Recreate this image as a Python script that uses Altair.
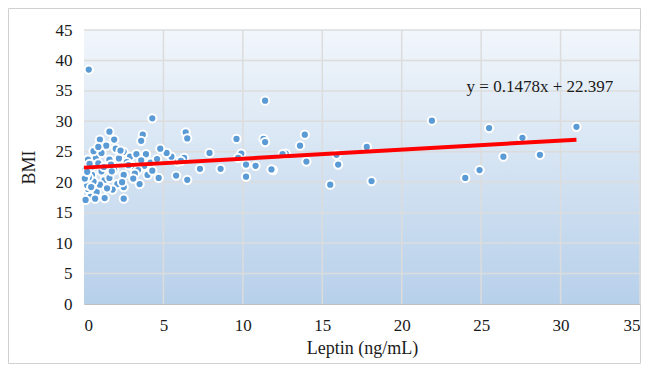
import altair as alt
import pandas as pd

leptin = [0.3, 4.3, 1.6, 3.7, 3.6, 1.0, 1.9, 6.4, 6.5, 11.4, 9.6, 11.3, 11.4, 13.9, 13.6,
          21.9, 25.5, 27.6, 31.0, 17.8, 26.4, 28.7, 24.9, 24.0, 15.5, 18.1, 15.9, 16.0,
          14.0, 12.7, 11.9, 10.8, 10.2, 9.9, 10.2, 9.7, 7.9, 8.6, 7.3, 6.5, 5.9, 6.3, 5.5,
          5.2, 4.8, 5.8, 4.7, 4.0, 3.5, 2.5, 2.5, 1.3, 0.4, 0.1, 0.25, 0.8, 1.3, 0.5, 0.1,
          0.25, 0.75, 1.1, 1.4, 2.0, 2.5, 1.6, 2.9, 3.0, 1.9, 2.5, 1.6, 1.0, 0.6, 2.1, 1.8,
          3.8, 4.2, 3.4, 4.3, 0.2, 0.5, 0.9, 1.2, 1.5, 2.2, 2.7, 3.2, 3.9, 0.3, 0.7, 1.7,
          2.3, 0.15, 0.6, 1.1, 3.1, 11.8, 12.5, 6.1, 4.6,
          0.05, 0.35, 0.45, 1.25, 1.75, 2.4, 2.8, 3.3, 0.9, 1.45, 0.2, 3.6]
bmi = [38.5, 30.5, 28.3, 27.8, 26.8, 27.0, 27.0, 28.2, 27.2, 33.4, 27.1, 27.1, 26.6, 27.8, 26.0,
       30.1, 28.9, 27.3, 29.1, 25.8, 24.2, 24.5, 22.0, 20.7, 19.6, 20.2, 24.5, 22.9,
       23.4, 24.7, 22.0, 22.7, 22.9, 24.7, 20.9, 24.0, 24.8, 22.2, 22.2, 20.4, 23.4, 24.0, 24.2,
       24.8, 25.5, 21.1, 20.7, 21.2, 19.7, 19.2, 17.3, 17.4, 17.6, 17.1, 18.9, 18.4, 20.4, 21.2, 22.0,
       23.7, 24.0, 24.8, 26.0, 25.5, 25.0, 23.7, 24.2, 22.7, 22.0, 21.2, 20.7, 19.6, 20.1, 19.7, 18.8,
       22.7, 23.2, 22.0, 21.9, 19.5, 22.6, 23.1, 21.6, 22.4, 23.9, 23.3, 21.4, 24.6, 20.8, 17.3, 22.9,
       25.2, 21.3, 25.1, 21.8, 20.6, 22.1, 24.6, 23.5, 23.8,
       20.6, 23.0, 19.2, 22.5, 21.8, 20.0, 22.8, 24.6, 25.8, 19.0, 21.7, 23.6]

x_ticks = [0, 5, 10, 15, 20, 25, 30, 35]
y_ticks = [0, 5, 10, 15, 20, 25, 30, 35, 40, 45]

slope = 0.1478
intercept = 22.397
line_x = [0.0, 31.0]
eq_label = "y = 0.1478x + 22.397"
eq_pos = (28.7, 35.7)

W, H = 556, 274
FONT = "Liberation Serif"
GRID = "#dcdcdc"

pts = pd.DataFrame({"Leptin": leptin, "BMI": bmi})
line_df = pd.DataFrame({"Leptin": line_x, "BMI": [slope * v + intercept for v in line_x]})
eq_df = pd.DataFrame({"Leptin": [eq_pos[0]], "BMI": [eq_pos[1]], "t": [eq_label]})
xg = pd.DataFrame({"v": x_ticks[1:]})
yg = pd.DataFrame({"v": y_ticks[1:]})

xs = alt.Scale(domain=[0, 35], nice=False)
ys = alt.Scale(domain=[0, 45], nice=False)

xaxis = alt.Axis(values=x_ticks, grid=False, ticks=False, labelOverlap=False,
                 domainColor="#bfbfbf", labelFont=FONT, labelFontSize=17, labelColor="#1a1a1a",
                 labelPadding=13, title="Leptin (ng/mL)", titleFont=FONT, titleFontSize=18,
                 titleFontWeight="normal", titleColor="#1a1a1a", titlePadding=6)
yaxis = alt.Axis(values=y_ticks, grid=False, ticks=False, labelOverlap=False,
                 domainColor="#bfbfbf", labelFont=FONT, labelFontSize=17, labelColor="#1a1a1a",
                 labelPadding=12, title="BMI", titleFont=FONT, titleFontSize=18,
                 titleFontWeight="normal", titleColor="#1a1a1a", titlePadding=17)

X = lambda f: alt.X(f, scale=xs, axis=xaxis)
Y = lambda f: alt.Y(f, scale=ys, axis=yaxis)

bg = alt.Chart(pd.DataFrame({"a": [0]})).mark_rect(
    color=alt.LinearGradient(
        gradient="linear", x1=0, x2=0, y1=0, y2=1,
        stops=[alt.GradientStop(color="#f1f6fb", offset=0),
               alt.GradientStop(color="#b7d0ea", offset=1)]
    )
).encode(x=alt.value(0), x2=alt.value(W), y=alt.value(0), y2=alt.value(H))

border = alt.Chart(pd.DataFrame({"a": [0]})).mark_rect(
    fill=None, stroke="#d0d0d0", strokeWidth=1, clip=False
).encode(x=alt.value(-75.5), x2=alt.value(W + 0.5), y=alt.value(-21.5), y2=alt.value(H + 59.5))

vgrid = alt.Chart(xg).mark_rule(color=GRID, strokeWidth=1.5).encode(
    x=X("v:Q"), y=alt.value(0), y2=alt.value(H))
hgrid = alt.Chart(yg).mark_rule(color=GRID, strokeWidth=1.5).encode(
    y=Y("v:Q"), x=alt.value(0), x2=alt.value(W))

points = alt.Chart(pts).mark_point(
    filled=True, shape="circle", size=68, fill="#5b9bd5", stroke="white", strokeWidth=2, opacity=1
).encode(x=X("Leptin:Q"), y=Y("BMI:Q"))

trend = alt.Chart(line_df).mark_line(color="#ff0000", strokeWidth=4).encode(
    x=X("Leptin:Q"), y=Y("BMI:Q"))

eq = alt.Chart(eq_df).mark_text(font=FONT, fontSize=17, color="#1a1a1a").encode(
    x=X("Leptin:Q"), y=Y("BMI:Q"), text="t:N")

chart = alt.layer(bg, border, vgrid, hgrid, points, trend, eq).properties(
    width=W, height=H, padding={"left": 76, "top": 22, "right": 1, "bottom": 60},
    autosize=alt.AutoSizeParams(type="none")
).configure_view(stroke=None).configure_axis(
    labelOverlap=False, labelFont=FONT, titleFont=FONT
)

chart.save("out.html", embed_options={"renderer": "svg", "actions": False})
